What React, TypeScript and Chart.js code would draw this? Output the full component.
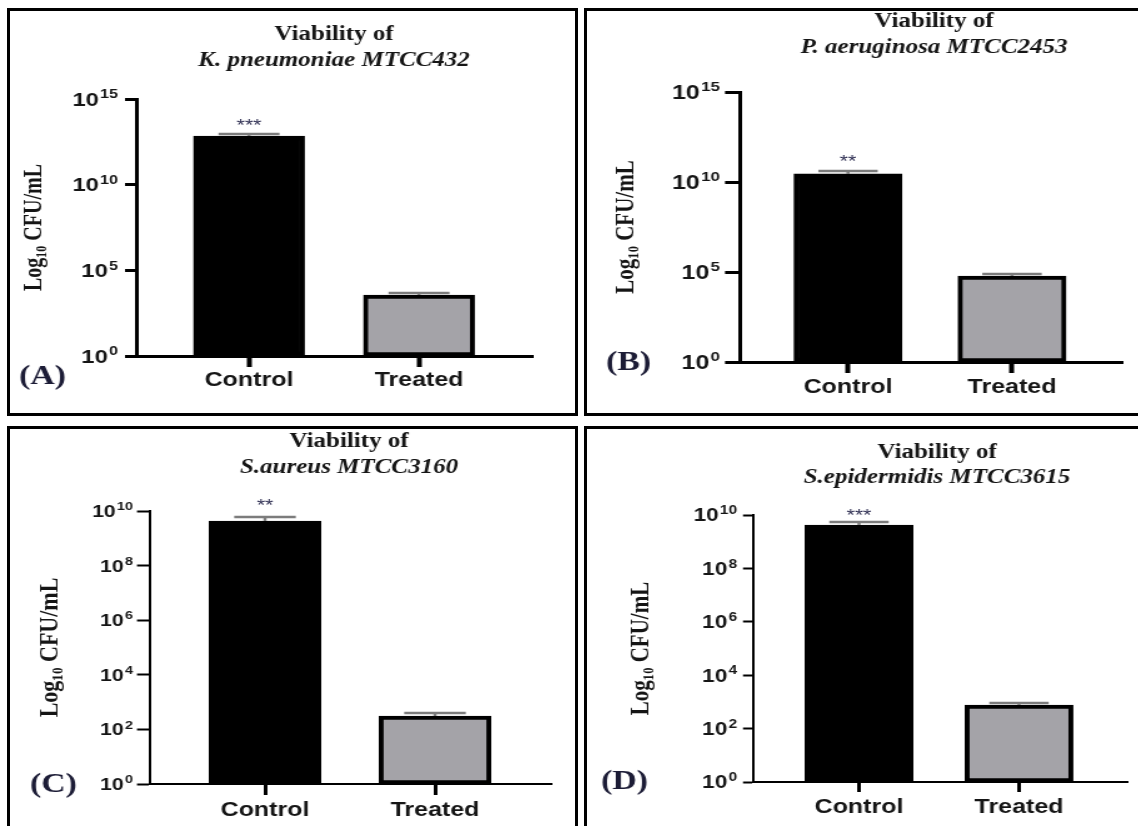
import React, { useEffect, useRef } from "react";
import { Chart, registerables } from "chart.js";

Chart.register(...registerables);

// ---------------- data ----------------
const categories = ["Control", "Treated"];
const yAxisTitle = "Log₁₀ CFU/mL";
const barColors = ["#000000", "#a4a3a8"];

const titleA = ["Viability of", "K. pneumoniae MTCC432"];
const valuesA = [6.9e12, 3.6e3];
const errorA = [9.1e12, 4.8e3];
const starsA = ["***", ""];
const tickExpA = [0, 5, 10, 15];
const tickLabelsA = ["10^0", "10^5", "10^10", "10^15"];

const titleB = ["Viability of", "P. aeruginosa MTCC2453"];
const valuesB = [2.8e10, 6.0e4];
const errorB = [4.1e10, 7.7e4];
const starsB = ["**", ""];
const tickExpB = [0, 5, 10, 15];
const tickLabelsB = ["10^0", "10^5", "10^10", "10^15"];

const titleC = ["Viability of", "S.aureus MTCC3160"];
const valuesC = [4.3e9, 310];
const errorC = [6.0e9, 400];
const starsC = ["**", ""];
const tickExpC = [0, 2, 4, 6, 8, 10];
const tickLabelsC = ["10^0", "10^2", "10^4", "10^6", "10^8", "10^10"];

const titleD = ["Viability of", "S.epidermidis MTCC3615"];
const valuesD = [4.2e9, 760];
const errorD = [5.5e9, 910];
const starsD = ["***", ""];
const tickExpD = [0, 2, 4, 6, 8, 10];
const tickLabelsD = ["10^0", "10^2", "10^4", "10^6", "10^8", "10^10"];

const panelLetters = ["(A)", "(B)", "(C)", "(D)"];

// ---------------- layout / style ----------------
type PanelData = {
  title: string[];
  values: number[];
  errors: number[];
  stars: string[];
  tickExp: number[];
  tickLabels: string[];
  letter: string;
};

type PanelLayout = {
  left: number; top: number; width: number; height: number; border: number;
  axisX: number; axisTop: number; axisBottom: number; axisEnd: number;
  centers: number[]; barW: number;
  titleX: number; titleY: number; subY: number; titleFs: number;
  yTitleX: number; yTitleFs: number;
  letterX: number; letterY: number; letterFs: number;
  yTickLen: number; yTickGap: number; tickFs: number;
  catTickLen: number; catTop: number; catFs: number;
  axisLW: number; tickLW: number; starGap: number;
};

const STRETCH = 1.25;
const SERIF = "'Liberation Serif', 'Times New Roman', 'DejaVu Serif', serif";
const SANS = "'Liberation Sans', Arial, 'DejaVu Sans', sans-serif";
const INK = "#151515";

const panels: { d: PanelData; L: PanelLayout }[] = [
  {
    d: { title: titleA, values: valuesA, errors: errorA, stars: starsA, tickExp: tickExpA, tickLabels: tickLabelsA, letter: panelLetters[0] },
    L: {
      left: 7, top: 8, width: 571, height: 408, border: 3,
      axisX: 137, axisTop: 99, axisBottom: 356, axisEnd: 533,
      centers: [249, 419], barW: 111,
      titleX: 334, titleY: 40, subY: 66, titleFs: 20,
      yTitleX: 35, yTitleFs: 20,
      letterX: 19, letterY: 384, letterFs: 27,
      yTickLen: 12, yTickGap: 7, tickFs: 19,
      catTickLen: 11, catTop: 373, catFs: 20,
      axisLW: 3, tickLW: 3, starGap: 12,
    },
  },
  {
    d: { title: titleB, values: valuesB, errors: errorB, stars: starsB, tickExp: tickExpB, tickLabels: tickLabelsB, letter: panelLetters[1] },
    L: {
      left: 584, top: 8, width: 560, height: 408, border: 3,
      axisX: 740, axisTop: 92, axisBottom: 362, axisEnd: 1123,
      centers: [848, 1012], barW: 108,
      titleX: 934, titleY: 27, subY: 53, titleFs: 20,
      yTitleX: 626, yTitleFs: 21,
      letterX: 606, letterY: 370, letterFs: 27,
      yTickLen: 15, yTickGap: 5, tickFs: 20,
      catTickLen: 11, catTop: 380, catFs: 20,
      axisLW: 3, tickLW: 3, starGap: 13,
    },
  },
  {
    d: { title: titleC, values: valuesC, errors: errorC, stars: starsC, tickExp: tickExpC, tickLabels: tickLabelsC, letter: panelLetters[2] },
    L: {
      left: 7, top: 426, width: 571, height: 420, border: 3,
      axisX: 150, axisTop: 511, axisBottom: 784, axisEnd: 552,
      centers: [265, 435], barW: 112,
      titleX: 349, titleY: 447, subY: 473, titleFs: 20,
      yTitleX: 50, yTitleFs: 22,
      letterX: 30, letterY: 792, letterFs: 27,
      yTickLen: 13, yTickGap: 4, tickFs: 17,
      catTickLen: 11, catTop: 803, catFs: 20,
      axisLW: 2, tickLW: 2, starGap: 15,
    },
  },
  {
    d: { title: titleD, values: valuesD, errors: errorD, stars: starsD, tickExp: tickExpD, tickLabels: tickLabelsD, letter: panelLetters[3] },
    L: {
      left: 584, top: 426, width: 560, height: 420, border: 3,
      axisX: 753, axisTop: 515, axisBottom: 782, axisEnd: 1128,
      centers: [859, 1019], barW: 108,
      titleX: 937, titleY: 458, subY: 483, titleFs: 20,
      yTitleX: 641, yTitleFs: 21,
      letterX: 601, letterY: 789, letterFs: 27,
      yTickLen: 10, yTickGap: 6, tickFs: 18,
      catTickLen: 10, catTop: 800, catFs: 20,
      axisLW: 2, tickLW: 2, starGap: 10,
    },
  },
];

function Panel({ d, L }: { d: PanelData; L: PanelLayout }) {
  const ref = useRef<HTMLCanvasElement>(null);
  const innerW = L.width - 2 * L.border;
  const innerH = L.height - 2 * L.border;
  const canvasW = Math.round(innerW / STRETCH);
  const kx = innerW / canvasW;

  useEffect(() => {
    const canvas = ref.current;
    if (!canvas) return;
    const ox = L.left + L.border;
    const oy = L.top + L.border;
    const cx = (x: number) => (x - ox) / kx;
    const cy = (y: number) => y - oy;

    const areaLeft = cx(L.axisX);
    const areaRight = cx(L.axisEnd);
    const areaTop = cy(L.axisTop);
    const areaBottom = cy(L.axisBottom);
    const xH = 50;
    const spacing = L.centers[1] - L.centers[0];
    const xMin = -(L.centers[0] - L.axisX) / spacing;
    const xMax = categories.length - 1 + (L.axisEnd - L.centers[1]) / spacing;
    const catPad = cy(L.catTop) + 0.37 * L.catFs - areaBottom - L.catTickLen - L.catFs * 0.6;
    const yTitlePad = cx(L.yTitleX) - (L.yTitleFs * 1.2) / 2;

    const annotate = {
      id: "annotate",
      afterDatasetsDraw(chart: any) {
        const ctx = chart.ctx as CanvasRenderingContext2D;
        const ys = chart.scales.y;
        const meta = chart.getDatasetMeta(0);
        ctx.save();
        meta.data.forEach((el: any, i: number) => {
          const capY = ys.getPixelForValue(d.errors[i]);
          const w = el.width * 0.55;
          ctx.strokeStyle = "#7c7c7c";
          ctx.lineWidth = 2.5;
          ctx.beginPath();
          ctx.moveTo(el.x, el.y);
          ctx.lineTo(el.x, capY);
          ctx.moveTo(el.x - w / 2, capY);
          ctx.lineTo(el.x + w / 2, capY);
          ctx.stroke();
          if (d.stars[i]) {
            const fs = 17;
            ctx.fillStyle = "#2e2e52";
            ctx.font = `${fs}px ${SANS}`;
            ctx.textAlign = "center";
            ctx.textBaseline = "middle";
            ctx.fillText(d.stars[i], el.x, capY - L.starGap + 0.235 * fs);
          }
        });
        ctx.restore();
      },
      afterDraw(chart: any) {
        const ctx = chart.ctx as CanvasRenderingContext2D;
        const ys = chart.scales.y;
        ctx.save();
        // y tick labels with superscript exponents, placed on the scale's ticks
        const fs = L.tickFs;
        const efs = fs * 0.68;
        const right = chart.chartArea.left - (L.yTickLen + L.yTickGap) / kx;
        ctx.fillStyle = INK;
        ctx.textAlign = "left";
        ctx.textBaseline = "alphabetic";
        ys.ticks.forEach((t: any) => {
          const e = Math.round(Math.log10(t.value));
          const idx = d.tickExp.indexOf(e);
          if (idx < 0) return;
          const [base, exp] = d.tickLabels[idx].split("^");
          const y = ys.getPixelForValue(t.value);
          ctx.font = `bold ${fs}px ${SANS}`;
          const bw = ctx.measureText(base).width;
          ctx.font = `bold ${efs}px ${SANS}`;
          const ew = ctx.measureText(exp).width;
          const x0 = right - bw - 1 - ew;
          const bl = y + 0.358 * fs;
          ctx.font = `bold ${fs}px ${SANS}`;
          ctx.fillText(base, x0, bl);
          ctx.font = `bold ${efs}px ${SANS}`;
          ctx.fillText(exp, x0 + bw + 1, bl - 0.4 * fs);
        });
        // titles
        ctx.fillStyle = INK;
        ctx.textAlign = "center";
        ctx.font = `bold ${L.titleFs}px ${SERIF}`;
        ctx.fillText(d.title[0], cx(L.titleX), cy(L.titleY));
        ctx.font = `italic bold ${L.titleFs}px ${SERIF}`;
        ctx.fillText(d.title[1], cx(L.titleX), cy(L.subY));
        // panel letter
        ctx.textAlign = "left";
        ctx.fillStyle = "#1c1c36";
        ctx.font = `bold ${L.letterFs}px ${SERIF}`;
        ctx.fillText(d.letter, cx(L.letterX), cy(L.letterY));
        ctx.restore();
      },
    };

    const chart = new Chart(canvas, {
      type: "bar",
      data: {
        datasets: [
          {
            data: d.values.map((v, i) => ({ x: i, y: v })) as any,
            backgroundColor: barColors,
            borderColor: "#000000",
            borderWidth: 4,
            borderSkipped: false,
            barThickness: L.barW / kx,
          },
        ],
      },
      options: {
        animation: false,
        responsive: false,
        devicePixelRatio: 1,
        events: [],
        layout: {
          padding: {
            left: 0,
            top: areaTop,
            right: canvasW - areaRight,
            bottom: innerH - areaBottom - xH,
          },
        },
        plugins: {
          legend: { display: false },
          tooltip: { enabled: false },
          title: { display: false },
        },
        scales: {
          x: {
            type: "linear",
            offset: false,
            min: xMin,
            max: xMax,
            afterBuildTicks: (s: any) => {
              s.ticks = categories.map((_, i) => ({ value: i }));
            },
            afterFit: (s: any) => {
              s.height = xH;
            },
            grid: {
              display: true,
              offset: false,
              drawOnChartArea: false,
              drawTicks: true,
              tickLength: L.catTickLen,
              tickWidth: L.tickLW + 1,
              tickColor: "#000000",
              color: "#000000",
              lineWidth: 1,
            },
            border: { display: true, width: L.axisLW, color: "#000000" },
            ticks: {
              autoSkip: false,
              maxRotation: 0,
              padding: catPad,
              color: INK,
              font: { family: SANS, size: L.catFs, weight: "bold" },
              callback: (v: any) => categories[Math.round(Number(v))] ?? "",
            },
          },
          y: {
            type: "logarithmic",
            min: Math.pow(10, d.tickExp[0]),
            max: Math.pow(10, d.tickExp[d.tickExp.length - 1]),
            afterBuildTicks: (s: any) => {
              s.ticks = d.tickExp.map((e) => ({ value: Math.pow(10, e) }));
            },
            afterFit: (s: any) => {
              s.width = areaLeft;
            },
            grid: {
              display: true,
              drawOnChartArea: false,
              drawTicks: true,
              tickLength: L.yTickLen / kx,
              tickWidth: L.tickLW,
              tickColor: "#000000",
              color: "#000000",
              lineWidth: 1,
            },
            border: { display: true, width: L.axisLW, color: "#000000" },
            ticks: {
              display: false,
              autoSkip: false,
            },
            title: {
              display: true,
              text: yAxisTitle,
              color: INK,
              font: { family: SERIF, size: L.yTitleFs, weight: "bold" },
              padding: { top: yTitlePad, bottom: 0 },
            },
          },
        },
      } as any,
      plugins: [annotate],
    });
    return () => chart.destroy();
  }, []);

  return (
    <div
      style={{
        position: "absolute",
        left: L.left,
        top: L.top,
        width: L.width,
        height: L.height,
        border: `${L.border}px solid #000`,
        boxSizing: "border-box",
        overflow: "hidden",
        background: "#fff",
      }}
    >
      <canvas
        ref={ref}
        width={canvasW}
        height={innerH}
        style={{
          position: "absolute",
          left: 0,
          top: 0,
          width: canvasW,
          height: innerH,
          transform: `scaleX(${kx})`,
          transformOrigin: "0 0",
        }}
      />
    </div>
  );
}

export default function App() {
  return (
    <div
      style={{
        position: "fixed",
        left: 0,
        top: 0,
        width: 1138,
        height: 826,
        overflow: "hidden",
        background: "#fff",
      }}
    >
      {panels.map((p, i) => (
        <Panel key={i} d={p.d} L={p.L} />
      ))}
    </div>
  );
}
